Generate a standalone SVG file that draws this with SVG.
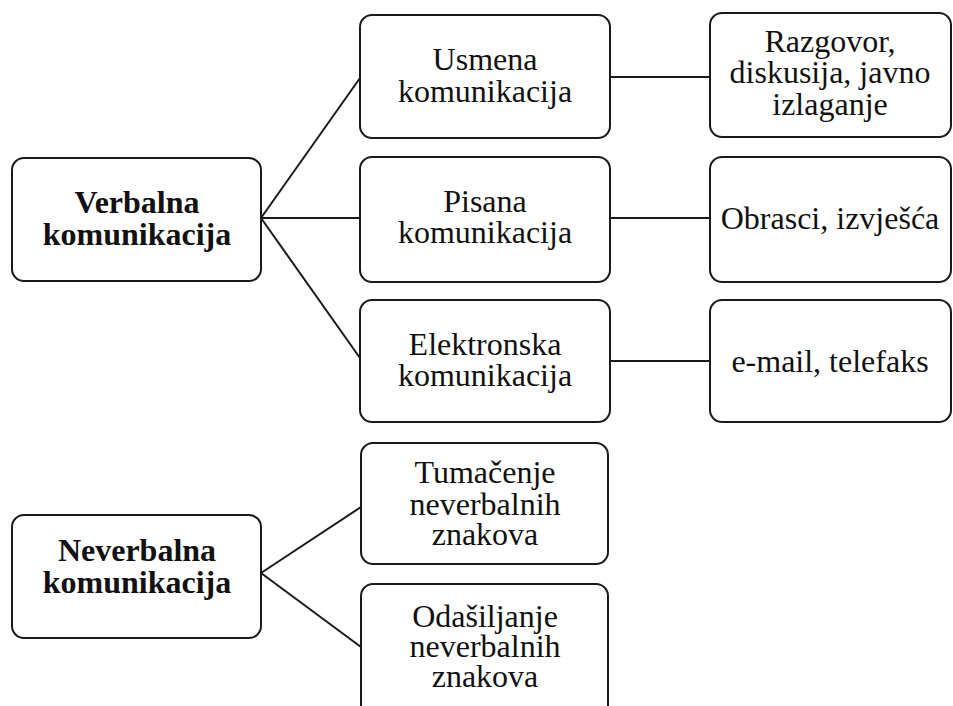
<svg xmlns="http://www.w3.org/2000/svg" width="953" height="706" viewBox="0 0 953 706">
<style>
.box{fill:#fff;stroke:#1a1a1a;stroke-width:2}
.ln{stroke:#1a1a1a;stroke-width:2;fill:none}
text{font-family:"Liberation Serif","Times New Roman",serif;font-size:32px;fill:#111;text-anchor:middle}
.b{font-weight:bold}
</style>
<rect width="953" height="706" fill="#fff"/>
<g id="connectors">
<line class="ln" x1="261" y1="218" x2="360" y2="78"/>
<line class="ln" x1="261" y1="218" x2="360" y2="218"/>
<line class="ln" x1="261" y1="218" x2="360" y2="358"/>
<line class="ln" x1="610" y1="77" x2="710" y2="77"/>
<line class="ln" x1="610" y1="218" x2="710" y2="218"/>
<line class="ln" x1="610" y1="361" x2="710" y2="361"/>
<line class="ln" x1="261" y1="573" x2="361" y2="507"/>
<line class="ln" x1="261" y1="573" x2="361" y2="647"/>
</g>
<g id="verbalna">
<rect class="box" x="12" y="158" width="249" height="123" rx="12"/>
<text class="b" x="137" y="213">Verbalna</text>
<text class="b" x="137" y="245">komunikacija</text>
</g>
<g id="usmena">
<rect class="box" x="360" y="15" width="250" height="123" rx="12"/>
<text x="485" y="70">Usmena</text>
<text x="485" y="102">komunikacija</text>
</g>
<g id="pisana">
<rect class="box" x="360" y="157" width="250" height="125" rx="12"/>
<text x="485" y="212">Pisana</text>
<text x="485" y="243">komunikacija</text>
</g>
<g id="elektronska">
<rect class="box" x="360" y="300" width="250" height="122" rx="12"/>
<text x="485" y="355">Elektronska</text>
<text x="485" y="386">komunikacija</text>
</g>
<g id="razgovor">
<rect class="box" x="710" y="13" width="241" height="124" rx="12"/>
<text x="830" y="52">Razgovor,</text>
<text x="830" y="83">diskusija, javno</text>
<text x="830" y="115">izlaganje</text>
</g>
<g id="obrasci">
<rect class="box" x="710" y="157" width="241" height="125" rx="12"/>
<text x="830" y="229">Obrasci, izvješća</text>
</g>
<g id="email">
<rect class="box" x="710" y="300" width="241" height="122" rx="12"/>
<text x="830" y="372">e-mail, telefaks</text>
</g>
<g id="neverbalna">
<rect class="box" x="12" y="515" width="249" height="123" rx="12"/>
<text class="b" x="137" y="561">Neverbalna</text>
<text class="b" x="137" y="593">komunikacija</text>
</g>
<g id="tumacenje">
<rect class="box" x="361" y="443" width="247" height="121" rx="12"/>
<text x="485" y="483">Tumačenje</text>
<text x="485" y="515">neverbalnih</text>
<text x="485" y="545">znakova</text>
</g>
<g id="odasiljanje">
<rect class="box" x="361" y="584" width="247" height="135" rx="12"/>
<text x="485" y="627">Odašiljanje</text>
<text x="485" y="657">neverbalnih</text>
<text x="485" y="687">znakova</text>
</g>
</svg>
